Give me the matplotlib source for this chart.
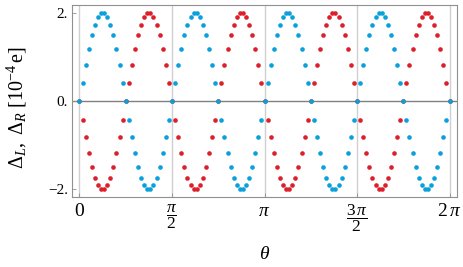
import numpy as np
import matplotlib
matplotlib.use("Agg")
from matplotlib import pyplot as plt

# sample grid in degrees (every 3 deg from 0 to 360)
theta_deg = list(range(0, 361, 3))

# Delta_L (blue) in units of 1e-4 e
delta_blue = [
    0.00, 0.42, 0.81, 1.18, 1.49, 1.73, 1.90, 1.99, 1.99, 1.90, 1.73, 1.49, 1.18, 0.81, 0.42,
    0.00, -0.42, -0.81, -1.18, -1.49, -1.73, -1.90, -1.99, -1.99, -1.90, -1.73, -1.49, -1.18, -0.81, -0.42,
    0.00, 0.42, 0.81, 1.18, 1.49, 1.73, 1.90, 1.99, 1.99, 1.90, 1.73, 1.49, 1.18, 0.81, 0.42,
    0.00, -0.42, -0.81, -1.18, -1.49, -1.73, -1.90, -1.99, -1.99, -1.90, -1.73, -1.49, -1.18, -0.81, -0.42,
    0.00, 0.42, 0.81, 1.18, 1.49, 1.73, 1.90, 1.99, 1.99, 1.90, 1.73, 1.49, 1.18, 0.81, 0.42,
    0.00, -0.42, -0.81, -1.18, -1.49, -1.73, -1.90, -1.99, -1.99, -1.90, -1.73, -1.49, -1.18, -0.81, -0.42,
    0.00, 0.42, 0.81, 1.18, 1.49, 1.73, 1.90, 1.99, 1.99, 1.90, 1.73, 1.49, 1.18, 0.81, 0.42,
    0.00, -0.42, -0.81, -1.18, -1.49, -1.73, -1.90, -1.99, -1.99, -1.90, -1.73, -1.49, -1.18, -0.81, -0.42,
    0.00,
]

# Delta_R (red)
delta_red = [
    0.00, -0.42, -0.81, -1.18, -1.49, -1.73, -1.90, -1.99, -1.99, -1.90, -1.73, -1.49, -1.18, -0.81, -0.42,
    0.00, 0.42, 0.81, 1.18, 1.49, 1.73, 1.90, 1.99, 1.99, 1.90, 1.73, 1.49, 1.18, 0.81, 0.42,
    0.00, -0.42, -0.81, -1.18, -1.49, -1.73, -1.90, -1.99, -1.99, -1.90, -1.73, -1.49, -1.18, -0.81, -0.42,
    0.00, 0.42, 0.81, 1.18, 1.49, 1.73, 1.90, 1.99, 1.99, 1.90, 1.73, 1.49, 1.18, 0.81, 0.42,
    0.00, -0.42, -0.81, -1.18, -1.49, -1.73, -1.90, -1.99, -1.99, -1.90, -1.73, -1.49, -1.18, -0.81, -0.42,
    0.00, 0.42, 0.81, 1.18, 1.49, 1.73, 1.90, 1.99, 1.99, 1.90, 1.73, 1.49, 1.18, 0.81, 0.42,
    0.00, -0.42, -0.81, -1.18, -1.49, -1.73, -1.90, -1.99, -1.99, -1.90, -1.73, -1.49, -1.18, -0.81, -0.42,
    0.00, 0.42, 0.81, 1.18, 1.49, 1.73, 1.90, 1.99, 1.99, 1.90, 1.73, 1.49, 1.18, 0.81, 0.42,
    0.00,
]

x_ticks = [0, np.pi / 2, np.pi, 3 * np.pi / 2, 2 * np.pi]
x_ticklabels = [r"$0$", r"$\dfrac{\pi}{2}$", r"$\pi$", r"$\dfrac{3\,\pi}{2}$", r"$2\,\pi$"]
y_ticks = [-2, 0, 2]
y_ticklabels = ["\u22122.", "0.", "2."]

plt.rcParams["font.family"] = ["Liberation Serif", "DejaVu Serif"]
plt.rcParams["mathtext.fontset"] = "custom"
plt.rcParams["mathtext.rm"] = "Liberation Serif"
plt.rcParams["mathtext.it"] = "Liberation Serif:italic"
plt.rcParams["mathtext.bf"] = "Liberation Serif:bold"

theta = np.radians(theta_deg)

fig = plt.figure(figsize=(4.63, 2.67), dpi=100)
ax = fig.add_axes([0.1555, 0.2622, 0.831, 0.7191])

for xt in x_ticks:
    ax.axvline(xt, color="#d0d0d0", lw=1.0, zorder=0)
ax.axhline(0, color="#808080", lw=1.0, zorder=1)

ax.scatter(theta, delta_red, s=11, color="#dd1f2b", linewidths=0, zorder=2)
ax.scatter(theta, delta_blue, s=11, color="#0aa0dc", linewidths=0, zorder=3)

ax.set_xlim(-0.127, 2 * np.pi + 0.122)
ax.set_ylim(-2.17, 2.18)

ax.set_xticks(x_ticks)
ax.set_xticklabels(x_ticklabels, fontsize=14)
for i, lab in enumerate(ax.get_xticklabels()):
    if "frac" in x_ticklabels[i]:
        lab.set_fontsize(12.5)
ax.set_yticks(y_ticks)
ax.set_yticklabels(y_ticklabels, fontsize=11)
ax.tick_params(direction="in", length=3, width=0.6, color="#909090")
ax.tick_params(axis="x", pad=4)
ax.tick_params(axis="y", pad=3)

for sp in ax.spines.values():
    sp.set_color("#909090")
    sp.set_linewidth(0.8)

ax.set_xlabel(r"$\theta$", fontsize=14)
ax.xaxis.set_label_coords(0.5, -0.255)
ax.set_ylabel(r"$\Delta_L,\ \Delta_R\ [10^{-4}\,\mathrm{e}]$", fontsize=14.5)
ax.yaxis.set_label_coords(-0.112, 0.466)

fig.savefig("out.png", dpi=100)
